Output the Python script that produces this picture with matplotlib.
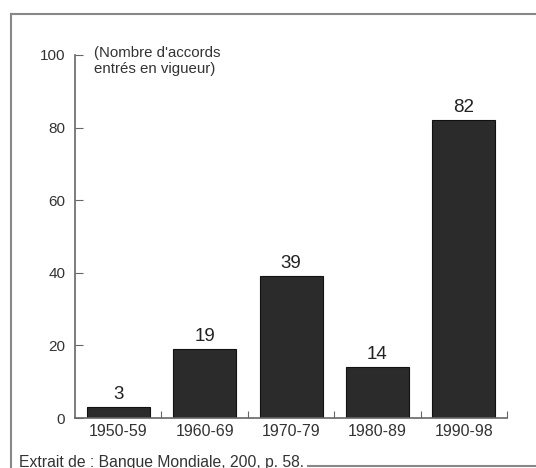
import matplotlib
matplotlib.use("Agg")
import matplotlib.pyplot as plt
from matplotlib.lines import Line2D

periods = ["1950-59", "1960-69", "1970-79", "1980-89", "1990-98"]
accords = [3, 19, 39, 14, 82]
y_ticks = [0, 20, 40, 60, 80, 100]

plt.rcParams["font.family"] = ["Liberation Sans", "DejaVu Sans"]

fig = plt.figure(figsize=(5.36, 4.68), dpi=100)
ax = fig.add_axes([0.140, 0.1068, 0.806, 0.7757])

x = range(len(periods))
bars = ax.bar(x, accords, width=0.73, color="#2b2b2b", edgecolor="#111111", linewidth=0.8)
for b, v in zip(bars, accords):
    ax.annotate(str(v), (b.get_x() + b.get_width() / 2, v), xytext=(0, 3),
                textcoords="offset points", ha="center", va="bottom", fontsize=13.5, color="#222222")

ax.set_xlim(-0.5, 4.5)
ax.set_ylim(0, 100)
ax.set_yticks(y_ticks)
ax.set_xticks([i + 0.5 for i in range(len(periods))])
ax.set_xticklabels([])
ax.set_xticks(list(x), minor=True)
ax.set_xticklabels(periods, minor=True, fontsize=11.5, color="#333333")
ax.tick_params(axis="x", which="minor", length=0, pad=4)
ax.tick_params(axis="x", which="major", direction="in", length=5, color="#666666")
ax.tick_params(axis="y", direction="in", length=6, color="#666666", labelsize=11, labelcolor="#333333", pad=7)

for s in ["top", "right"]:
    ax.spines[s].set_visible(False)
for s in ["left", "bottom"]:
    ax.spines[s].set_color("#666666")
    ax.spines[s].set_linewidth(1.2)

ax.text(0.045, 1.025, "(Nombre d'accords\nentrés en vigueur)", transform=ax.transAxes,
        ha="left", va="top", fontsize=10.8, color="#333333", linespacing=1.15)

fig.text(19 / 536, 1 - 462 / 468, "Extrait de : Banque Mondiale, 200, p. 58.",
         ha="left", va="center", fontsize=11.3, color="#333333")

# cadre autour de la figure
frame = dict(color="#888888", linewidth=1.5, transform=fig.transFigure)
fig.add_artist(Line2D([11 / 536, 1.0], [1 - 14 / 468, 1 - 14 / 468], **frame))
fig.add_artist(Line2D([11 / 536, 11 / 536], [1 - 14 / 468, 0.0], **frame))
fig.add_artist(Line2D([308 / 536, 1.0], [1 - 466 / 468, 1 - 466 / 468], **frame))

fig.savefig("out.png", dpi=100, facecolor="white")
